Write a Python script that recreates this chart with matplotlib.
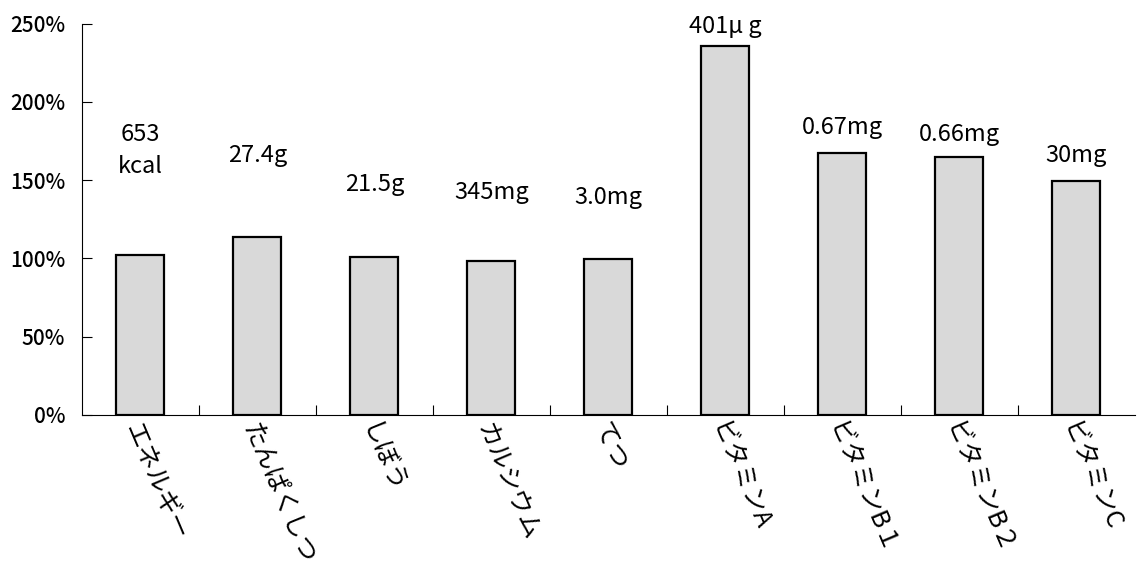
import matplotlib
matplotlib.use("Agg")
import matplotlib.pyplot as plt
from matplotlib.ticker import PercentFormatter

plt.rcParams['font.family'] = ['Noto Sans CJK JP', 'DejaVu Sans']

# 栄養素ごとの充足率 (%)
nutrients = ['エネルギー', 'たんぱくしつ', 'しぼう', 'カルシウム', 'てつ',
             'ビタミンA', 'ビタミンB１', 'ビタミンB２', 'ビタミンC']
ratios = [102.3, 113.8, 101.0, 98.5, 99.7, 236.0, 167.5, 165.0, 149.6]
amounts = ['653\nkcal', '27.4g', '21.5g', '345mg', '3.0mg',
           '401μ g', '0.67mg', '0.66mg', '30mg']
label_y = [169, 166, 147, 142, 139, 248, 184, 179, 166]

fig = plt.figure(figsize=(11.38, 5.66), dpi=100)
ax = fig.add_axes([0.072, 0.267, 0.925, 0.691])

x = list(range(len(nutrients)))
ax.bar(x, ratios, width=0.41, color='#d9d9d9', edgecolor='black', linewidth=1.6)

for xi, txt, yy in zip(x, amounts, label_y):
    ax.text(xi, yy, txt, ha='center', va='center', fontsize=17,
            linespacing=1.45)

ax.set_xlim(-0.5, len(nutrients) - 0.5)
ax.set_ylim(0, 250)
ax.set_yticks([0, 50, 100, 150, 200, 250])
ax.yaxis.set_major_formatter(PercentFormatter(decimals=0))
ax.tick_params(axis='y', direction='in', length=7, labelsize=15, pad=12)
for lbl in ax.get_yticklabels():
    lbl.set_fontweight('medium')

# 区切りの目盛りは棒の間
ax.set_xticks([i + 0.5 for i in x[:-1]])
ax.set_xticklabels([])
ax.tick_params(axis='x', direction='in', length=7)
for xi, name in zip(x, nutrients):
    ax.text(xi - 0.07, -6, name, rotation=-67, rotation_mode='anchor',
            ha='left', va='center', fontsize=18,
            transform=ax.transData, clip_on=False)

ax.spines['top'].set_visible(False)
ax.spines['right'].set_visible(False)

fig.savefig('out.png', dpi=100)
